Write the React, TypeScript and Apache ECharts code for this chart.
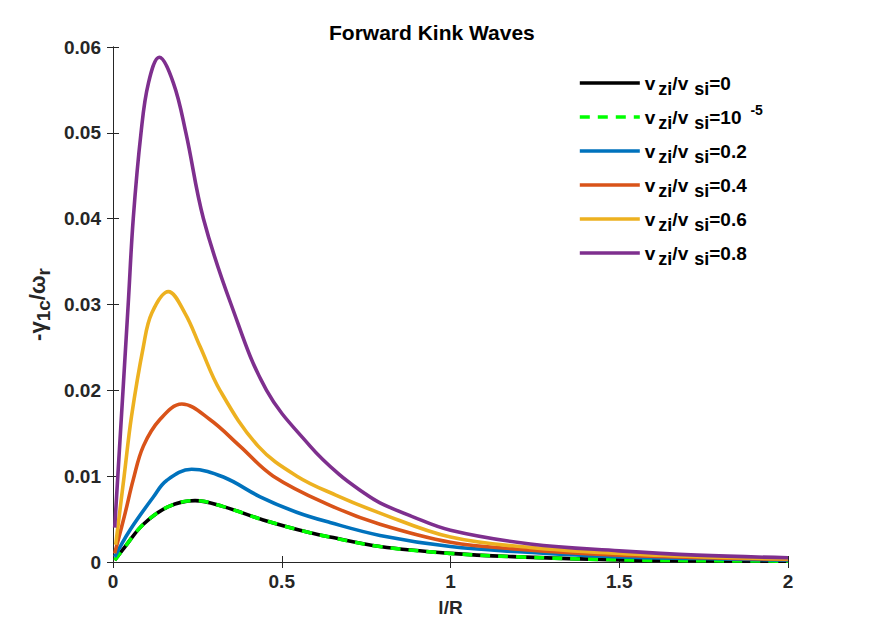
import React, { useEffect, useRef } from 'react';
import * as echarts from 'echarts';

// Curve data (x = l/R, y = -gamma_1c/omega_r)
const baseX = [0.005, 0.036, 0.09, 0.164, 0.243, 0.327, 0.445, 0.584, 0.643, 0.791, 1.0, 1.2, 1.5, 1.75, 2.0];
const baseY = [0.0002, 0.0018, 0.0044, 0.00645, 0.00715, 0.00645, 0.0049, 0.0034, 0.0029, 0.0018, 0.001, 0.0006, 0.00025, 0.00015, 0.0001];

const tinyX = [0.005, 0.036, 0.09, 0.164, 0.243, 0.327, 0.445, 0.584, 0.643, 0.791, 1.0, 1.2, 1.5, 1.75, 2.0];
const tinyY = [0.0002, 0.0018, 0.0044, 0.00645, 0.00715, 0.00645, 0.0049, 0.0034, 0.0029, 0.0018, 0.001, 0.0006, 0.00025, 0.00015, 0.0001];

const v02X = [0.005, 0.05, 0.12, 0.159, 0.233, 0.327, 0.436, 0.544, 0.643, 0.791, 1.0, 1.2, 1.5, 1.75, 2.0];
const v02Y = [0.0006, 0.0037, 0.0076, 0.0095, 0.0108, 0.0099, 0.0076, 0.0058, 0.0046, 0.0031, 0.0018, 0.0012, 0.0006, 0.0004, 0.0002];

const v04X = [0.005, 0.036, 0.06, 0.09, 0.139, 0.204, 0.287, 0.376, 0.475, 0.643, 0.791, 1.0, 1.2, 1.5, 1.75, 2.0];
const v04Y = [0.001, 0.0057, 0.0096, 0.0135, 0.0166, 0.0184, 0.0166, 0.0135, 0.01, 0.0066, 0.0044, 0.0023, 0.0015, 0.0008, 0.0005, 0.0003];

const v06X = [0.008, 0.033, 0.055, 0.09, 0.115, 0.164, 0.213, 0.258, 0.317, 0.43, 0.545, 0.66, 0.791, 1.0, 1.236, 1.5, 1.75, 2.0];
const v06Y = [0.002, 0.01, 0.017, 0.0251, 0.029, 0.0315, 0.029, 0.0251, 0.02, 0.0135, 0.01, 0.0078, 0.0057, 0.0029, 0.0017, 0.001, 0.0006, 0.00035];

const v08X = [0.005, 0.045, 0.06, 0.083, 0.105, 0.137, 0.179, 0.216, 0.268, 0.35, 0.455, 0.584, 0.67, 0.742, 0.791, 0.88, 1.0, 1.236, 1.5, 1.73, 2.0];
const v08Y = [0.004, 0.03, 0.04, 0.05, 0.0558, 0.0588, 0.0558, 0.05, 0.04, 0.03, 0.02, 0.0135, 0.0102, 0.0081, 0.0069, 0.0054, 0.0037, 0.0021, 0.0013, 0.0008, 0.0005];

const legendValues = ['0', '10', '0.2', '0.4', '0.6', '0.8'];
const legendSup = ['', '-5', '', '', '', ''];
const seriesColors = ['#000000', '#00ff00', '#0072BD', '#D95319', '#EDB120', '#7E2F8E'];

const xTicks = { min: 0, max: 2, interval: 0.5 };
const yTicks = { min: 0, max: 0.06, interval: 0.01 };

const FONT = '"Liberation Sans", Arial, Helvetica, sans-serif';
const AXIS_COLOR = '#262626';

const pairs = (xs: number[], ys: number[]) => xs.map((x, i) => [x, ys[i]]);

export default function App() {
  const ref = useRef<HTMLDivElement>(null);

  useEffect(() => {
    if (!ref.current) return;
    const chart = echarts.init(ref.current, null, { renderer: 'svg' });

    const allX = [baseX, tinyX, v02X, v04X, v06X, v08X];
    const allY = [baseY, tinyY, v02Y, v04Y, v06Y, v08Y];
    const names = legendValues.map((v, i) => 's' + i);

    const series = names.map((name, i) => ({
      name,
      type: 'line',
      data: pairs(allX[i], allY[i]),
      showSymbol: false,
      symbol: 'none',
      smooth: 0.38,
      lineStyle: {
        color: seriesColors[i],
        width: 3.6,
        type: i === 1 ? [10, 8] : 'solid',
      },
      itemStyle: { color: seriesColors[i] },
      z: 2 + i,
    }));

    const axisCommon = {
      axisLine: { show: true, lineStyle: { color: AXIS_COLOR, width: 1 } },
      axisTick: { show: true, inside: true, length: 6, lineStyle: { color: AXIS_COLOR, width: 1 } },
      splitLine: { show: false },
    };

    const labelStyle = {
      color: AXIS_COLOR,
      fontFamily: FONT,
      fontWeight: 'bold',
      fontSize: 19,
    };

    const tok = { fontFamily: FONT, fontWeight: 'bold', color: '#000' };

    chart.setOption({
      animation: false,
      backgroundColor: '#ffffff',
      title: {
        text: 'Forward Kink Waves',
        left: 324,
        top: 17,
        textStyle: { fontFamily: FONT, fontWeight: 'bold', fontSize: 21, color: '#000' },
      },
      grid: { left: 113, right: 84, top: 47, bottom: 70, containLabel: false },
      legend: {
        data: names,
        orient: 'vertical',
        left: 573,
        top: 63,
        itemWidth: 60,
        itemHeight: 12,
        itemGap: 4,
        selectedMode: false,
        itemStyle: { opacity: 0 },
        lineStyle: { width: 3.6 },
        formatter: (name: string) => {
          const i = names.indexOf(name);
          const sup = legendSup[i] ? '{sup|' + legendSup[i] + '}' : '';
          return '{v|v}{sub|zi}{v|/v}{sub2|si}{v|=' + legendValues[i] + '}' + sup;
        },
        textStyle: {
          ...tok,
          fontSize: 19,
          rich: {
            v: { ...tok, fontSize: 19, lineHeight: 30 },
            sub: { ...tok, fontSize: 18, lineHeight: 18, padding: [12, 0, 0, 3] },
            sub2: { ...tok, fontSize: 18, lineHeight: 18, padding: [12, 0, 0, 6] },
            sup: { ...tok, fontSize: 14, lineHeight: 16, padding: [0, 0, 14, 9] },
          },
        },
      },
      xAxis: [
        {
          type: 'value',
          ...xTicks,
          position: 'bottom',
          ...axisCommon,
          axisLabel: { ...labelStyle, margin: 10 },
          name: 'l/R',
          nameLocation: 'middle',
          nameGap: 36,
          nameTextStyle: { fontFamily: FONT, fontWeight: 'bold', fontSize: 19, color: AXIS_COLOR },
        },
        {
          type: 'value',
          ...xTicks,
          position: 'top',
          ...axisCommon,
          axisLabel: { show: false },
        },
      ],
      yAxis: [
        {
          type: 'value',
          ...yTicks,
          position: 'left',
          ...axisCommon,
          axisLabel: {
            ...labelStyle,
            margin: 12,
            formatter: (v: number) => (v === 0 ? '0' : v.toFixed(2)),
          },
          name: '{a|-γ}{b|1c}{a|/ω}{b|r}',
          nameLocation: 'middle',
          nameRotate: 90,
          nameGap: 53,
          nameTextStyle: {
            color: AXIS_COLOR,
            rich: {
              a: { fontFamily: FONT, fontWeight: 'bold', fontSize: 22, color: AXIS_COLOR },
              b: { fontFamily: FONT, fontWeight: 'bold', fontSize: 19, color: AXIS_COLOR, padding: [12, 0, 0, 0] },
            },
          },
        },
        {
          type: 'value',
          ...yTicks,
          position: 'right',
          ...axisCommon,
          axisLabel: { show: false },
        },
      ],
      series,
    });

    return () => {
      chart.dispose();
    };
  }, []);

  return (
    <div
      ref={ref}
      style={{ position: 'fixed', left: 0, top: 0, width: 872, height: 632, background: '#fff' }}
    />
  );
}
